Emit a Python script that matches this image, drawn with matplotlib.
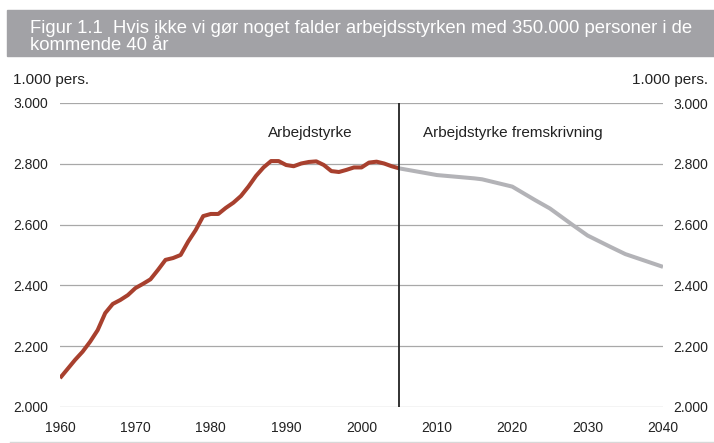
import matplotlib.pyplot as plt
from matplotlib.patches import Rectangle
from matplotlib.ticker import FuncFormatter

plt.rcParams['font.family'] = ['Liberation Sans', 'DejaVu Sans']

# historic labour force (1.000 persons)
hist_years = list(range(1960, 2006))
hist_vals = [2095, 2125, 2155, 2182, 2215, 2253, 2309, 2339, 2352, 2368,
             2391, 2405, 2420, 2451, 2484, 2490, 2500, 2544, 2582, 2628,
             2635, 2635, 2655, 2672, 2694, 2725, 2760, 2788, 2809, 2809,
             2796, 2792, 2801, 2806, 2808, 2796, 2776, 2773, 2780, 2788,
             2788, 2804, 2807, 2801, 2792, 2785]

# projection
proj_years = [2005, 2010, 2015, 2016, 2020, 2023, 2025, 2028, 2030, 2033, 2035, 2040]
proj_vals = [2785, 2763, 2752, 2749, 2725, 2681, 2653, 2599, 2564, 2527, 2503, 2461]

split_year = 2005
yticks = [2000, 2200, 2400, 2600, 2800, 3000]
xticks = [1960, 1970, 1980, 1990, 2000, 2010, 2020, 2030, 2040]

fig = plt.figure(figsize=(7.14, 4.43), dpi=100)
ax = fig.add_axes([60 / 714, 1 - 407 / 443, 603 / 714, 304 / 443])

# title banner
fig.patches.append(Rectangle((7 / 714, 1 - 56 / 443), 707 / 714, 46 / 443,
                             transform=fig.transFigure, color='#a2a2a6', zorder=0))
fig.text(30 / 714, 1 - 33 / 443,
         'Figur 1.1  Hvis ikke vi gør noget falder arbejdsstyrken med 350.000 personer i de',
         color='white', fontsize=13.3, va='baseline', ha='left')
fig.text(30 / 714, 1 - 50 / 443, 'kommende 40 år',
         color='white', fontsize=13.3, va='baseline', ha='left')

# bottom rule
fig.add_artist(plt.Line2D([10 / 714, 1], [1 - 442 / 443] * 2,
                          transform=fig.transFigure, color='#d8d8d8', lw=1))

ax.plot(hist_years, hist_vals, color='#a8402e', lw=2.9, solid_capstyle='butt', zorder=3)
ax.plot(proj_years, proj_vals, color='#b3b3b7', lw=2.9, solid_capstyle='butt', zorder=3)
ax.axvline(split_year, color='#222222', lw=1.3, zorder=4)

ax.set_xlim(1960, 2040)
ax.set_ylim(2000, 3000)
ax.set_xticks(xticks)
ax.set_yticks(yticks)
fmt = FuncFormatter(lambda v, p: f'{int(v):,}'.replace(',', '.'))
ax.yaxis.set_major_formatter(fmt)
ax.grid(axis='y', color='#a8a8a8', lw=0.9)
ax.set_axisbelow(True)
for s in ax.spines.values():
    s.set_visible(False)
ax.tick_params(axis='both', length=0, labelsize=10, colors='#222222')
ax.tick_params(axis='y', pad=8.5)
ax.tick_params(axis='x', pad=10)

ax2 = ax.twinx()
ax2.set_ylim(2000, 3000)
ax2.set_yticks(yticks)
ax2.yaxis.set_major_formatter(fmt)
for s in ax2.spines.values():
    s.set_visible(False)
ax2.tick_params(axis='y', length=0, labelsize=10, colors='#222222', pad=7.5)

fig.text(13 / 714, 1 - 80 / 443, '1.000 pers.', fontsize=11, va='center', ha='left', color='#222222')
fig.text(708 / 714, 1 - 80 / 443, '1.000 pers.', fontsize=11, va='center', ha='right', color='#222222')

ax.text(1993.2, 2900, 'Arbejdstyrke', fontsize=11, ha='center', va='center', color='#222222')
ax.text(2008.2, 2900, 'Arbejdstyrke fremskrivning', fontsize=11, ha='left', va='center', color='#222222')

fig.savefig('out.png', dpi=100)
